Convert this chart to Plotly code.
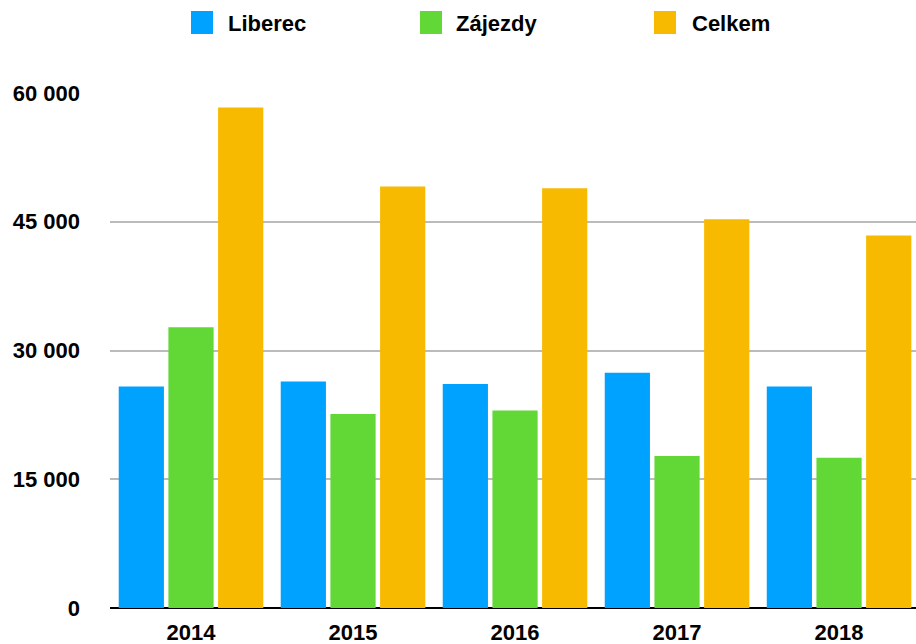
import plotly.graph_objects as go

years = ["2014", "2015", "2016", "2017", "2018"]
liberec = [25800, 26400, 26100, 27400, 25800]
zajezdy = [32700, 22600, 23000, 17700, 17500]
celkem = [58300, 49100, 48900, 45300, 43400]
series_names = ["Liberec", "Zájezdy", "Celkem"]
colors = ["#00A2FF", "#61D836", "#F8BA00"]
y_ticks = [0, 15000, 30000, 45000, 60000]

W, H = 916, 644
ML, MR, MT, MB = 110, 0, 93, 36
PW, PH = W - ML - MR, H - MT - MB


def px_x(px):
    return (px - ML) / PW


def px_y(py):
    return (H - MB - py) / PH


fig = go.Figure()
for name, vals, col in zip(series_names, [liberec, zajezdy, celkem], colors):
    fig.add_trace(go.Bar(name=name, x=years, y=vals, marker=dict(color=col, line=dict(width=0)),
                         showlegend=False))

font = "Liberation Sans, Arial, sans-serif"

# custom legend (large swatches like the original)
swatch_left = [191, 420, 654]
text_left = [228, 456, 692]
shapes = []
annotations = []
for name, col, sx, tx in zip(series_names, colors, swatch_left, text_left):
    shapes.append(dict(type="rect", xref="paper", yref="paper",
                       x0=px_x(sx), x1=px_x(sx + 22), y0=px_y(34), y1=px_y(11),
                       fillcolor=col, line=dict(width=0), layer="above"))
    annotations.append(dict(text=name, xref="paper", yref="paper", x=px_x(tx - 2), y=px_y(23),
                            xanchor="left", yanchor="middle", showarrow=False,
                            font=dict(size=22, family=font, color="black", weight="bold")))

fig.update_layout(
    width=W, height=H,
    margin=dict(l=ML, r=MR, t=MT, b=MB, autoexpand=False),
    paper_bgcolor="white", plot_bgcolor="white",
    barmode="group", bargap=0.08, bargroupgap=0.09,
    separators=", ",
    showlegend=False,
    font=dict(family=font, color="black"),
    shapes=shapes, annotations=annotations,
    xaxis=dict(showgrid=False, showline=False, ticks="", tickfont=dict(size=22, weight="bold"),
               ticklabelstandoff=9, automargin=False, range=[-0.5, 4.475]),
    yaxis=dict(range=[0, 60000], tickvals=y_ticks, tickformat=",d", showgrid=True, gridcolor="#BBBBBB",
               gridwidth=2, zeroline=True, zerolinecolor="black", zerolinewidth=2, showline=False,
               tickfont=dict(size=22, weight="bold"), ticklabelstandoff=29, automargin=False),
)
fig.write_html("out.html", config={"displayModeBar": False},
               post_script="document.body.style.margin='0';")
